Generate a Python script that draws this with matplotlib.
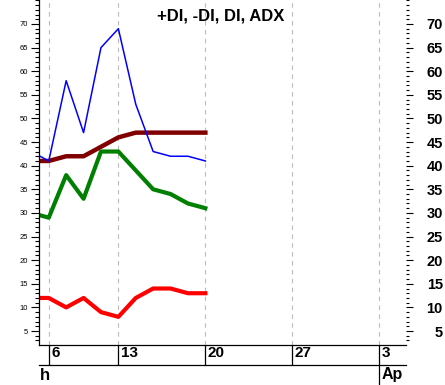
"""
+DI, -DI, DI, ADX 指标图
"""
import matplotlib
matplotlib.use("Agg")
from matplotlib import pyplot as plt
from matplotlib.transforms import ScaledTranslation

plt.rcParams["font.family"] = ["Liberation Sans", "DejaVu Sans"]

# 交易日序号 (1 = 6日)
days = [0, 1, 2, 3, 4, 5, 6, 7, 8, 9, 10]
plus_di = [43, 41, 58, 47, 65, 69, 53, 43, 42, 42, 41]
adx = [41, 41, 42, 42, 44, 46, 47, 47, 47, 47, 47]
di = [30, 29, 38, 33, 43, 43, 39, 35, 34, 32, 31]
minus_di = [12, 12, 10, 12, 9, 8, 12, 14, 14, 13, 13]

tick_pos = [1, 5, 10, 15, 20]
tick_labels = ["6", "13", "20", "27", "3"]
y_ticks = list(range(5, 75, 5))

xlim = (0.41, 21.53)
ylim = (2.04, 75.08)

W, H = 445, 385
fig = plt.figure(figsize=(W / 100, H / 100), dpi=100)
left, right, bottom = 38.5, 406, 345
ax = fig.add_axes([left / W, 1 - bottom / H, (right - left) / W, bottom / H])

ax.plot(days, adx, color="#800000", lw=3.2)
ax.plot(days, di, color="#008000", lw=3.0)
ax.plot(days, minus_di, color="#ff0000", lw=3.0)
ax.plot(days, plus_di, color="#0000ff", lw=1.1)

ax.set_xlim(xlim)
ax.set_ylim(ylim)
for s in ["top", "right"]:
    ax.spines[s].set_visible(False)
for s in ["left", "bottom"]:
    ax.spines[s].set_linewidth(0.9)

# 竖虚线
for p in tick_pos:
    ax.axvline(p, color="#bbbbbb", lw=0.8, ls=(0, (4, 4)), zorder=0)

# 左侧 y 轴 (小字)
ax.set_yticks(y_ticks)
ax.set_yticks(range(3, 76), minor=True)
ax.tick_params(axis="y", which="major", length=6, width=0.8, labelsize=5.5, pad=1.5)
ax.tick_params(axis="y", which="minor", length=3, width=0.8)

# 日期轴
ax.set_xticks(tick_pos)
ax.set_xticklabels(tick_labels, ha="left", fontweight="bold", fontsize=11)
ax.tick_params(axis="x", length=14.4, width=0.9, pad=-13.5)
for lbl in ax.get_xticklabels():
    lbl.set_transform(lbl.get_transform() + ScaledTranslation(0.025, 0, fig.dpi_scale_trans))

# 右侧 y 轴 (粗体大字)
ax2 = ax.twinx()
ax2.set_ylim(ylim)
for s in ax2.spines.values():
    s.set_visible(False)
ax2.set_yticks(y_ticks)
ax2.set_yticks(range(3, 76), minor=True)
ax2.tick_params(axis="y", which="major", length=5, width=0.8, labelsize=10.5, pad=21.5)
ax2.tick_params(axis="y", which="minor", length=2.2, width=0.8)
for lbl in ax2.get_yticklabels():
    lbl.set_fontweight("bold")
    lbl.set_horizontalalignment("right")

# 月份行
axm = fig.add_axes([left / W, 0, (right - left) / W, 20 / H])
axm.set_xlim(xlim)
axm.set_ylim(0, 1)
for s in ["left", "right", "bottom"]:
    axm.spines[s].set_visible(False)
axm.spines["top"].set_linewidth(0.9)
axm.set_xticks([])
axm.set_yticks([])
axm.patch.set_alpha(0)
axm.axvline(tick_pos[-1], color="black", lw=0.9)
axm.text(0.005, 0.5, "h", transform=axm.transAxes, fontsize=12, fontweight="bold", va="center", ha="left")
axm.text(tick_pos[-1] + 0.12, 0.5, "Ap", fontsize=11.5, fontweight="bold", va="center", ha="left")

fig.text(221 / W, 1 - 16 / H, "+DI, -DI, DI, ADX", fontsize=12, fontweight="bold", ha="center", va="center")

fig.savefig("out.png", dpi=100)
